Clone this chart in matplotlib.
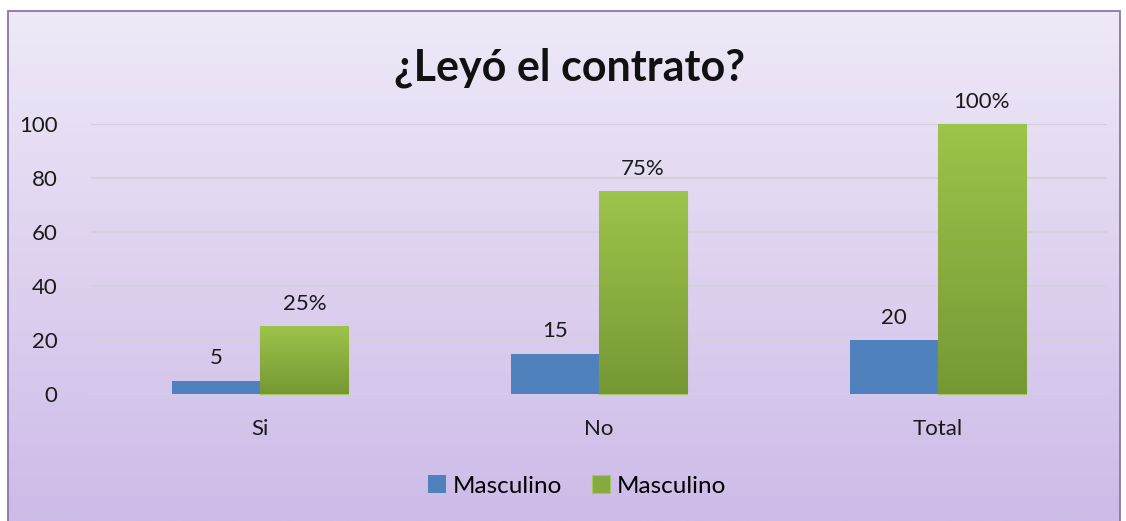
import numpy as np
import matplotlib.pyplot as plt
from matplotlib.colors import LinearSegmentedColormap
from matplotlib.patches import Rectangle

categories = ["Si", "No", "Total"]
masculino_n = [5, 15, 20]
masculino_pct = [25, 75, 100]
legend_labels = ["Masculino", "Masculino"]
yticks = [0, 20, 40, 60, 80, 100]

plt.rcParams["font.family"] = ["Lato", "DejaVu Sans"]

fig = plt.figure(figsize=(11.26, 5.21), dpi=100)

# background gradient + frame
bg = fig.add_axes([0, 0, 1, 1], zorder=-10)
bg_cmap = LinearSegmentedColormap.from_list("bg", ["#efe9f7", "#cdbbe8"])
grad = np.linspace(0, 1, 256).reshape(-1, 1)
bg.imshow(grad, cmap=bg_cmap, aspect="auto", origin="upper",
          extent=[8 / 1126, 1120 / 1126, 0, 1 - 11 / 521])
bg.add_patch(Rectangle((8 / 1126, -0.01), 1112 / 1126, 1 - 11 / 521 + 0.01,
                       facecolor="none", edgecolor="#8a74ad", lw=1.3, zorder=2))
bg.set_xlim(0, 1)
bg.set_ylim(0, 1)
bg.axis("off")

ax = fig.add_axes([91 / 1126, 127 / 521, 1016 / 1126, 270 / 521])
ax.patch.set_alpha(0)

x = np.arange(len(categories))
w = 0.26
green_cmap = LinearSegmentedColormap.from_list("g", ["#9dc44b", "#769834"])

b1 = ax.bar(x - w / 2, masculino_n, w, color="#4f81bd", zorder=3, clip_on=False)
b2 = ax.bar(x + w / 2, masculino_pct, w, color="#8cae43", edgecolor="#a3c95a",
            lw=0.8, zorder=3, clip_on=False)

for bar in b2:
    x0, y0 = bar.get_x(), bar.get_y()
    im = ax.imshow(grad, cmap=green_cmap, aspect="auto", origin="upper",
                   extent=[x0, x0 + bar.get_width(), y0, y0 + bar.get_height()],
                   zorder=3.5, clip_on=False)
    im.set_clip_path(bar)

for bar, v in zip(b1, masculino_n):
    ax.text(bar.get_x() + bar.get_width() / 2, v + 4.5, f"{v}", ha="center", va="bottom",
            fontsize=16, color="#1a1a1a")
for bar, v in zip(b2, masculino_pct):
    ax.text(bar.get_x() + bar.get_width() / 2, v + 4.5, f"{v}%", ha="center", va="bottom",
            fontsize=16, color="#1a1a1a")

ax.set_xlim(-0.5, 2.5)
ax.set_ylim(0, 100)
ax.set_yticks(yticks)
ax.set_xticks(x)
ax.set_xticklabels(categories)
ax.tick_params(axis="both", length=0, labelsize=16, colors="#1a1a1a")
ax.tick_params(axis="x", pad=18)
ax.tick_params(axis="y", pad=24)
ax.grid(axis="y", color="#d6d0de", lw=1.6, zorder=0)
for s in ax.spines.values():
    s.set_visible(False)

fig.text(569 / 1126, 1 - 68 / 521, "¿Leyó el contrato?", ha="center", va="center",
         fontsize=31, fontweight="bold", color="#111111")

leg = fig.legend([b1, b2], legend_labels, loc="center",
                 bbox_to_anchor=(577 / 1126, 1 - 486 / 521),
                 ncol=2, frameon=False, fontsize=17.5, handlelength=0.75,
                 handleheight=0.75, handletextpad=0.3, columnspacing=1.2)
leg.legend_handles[1].set_facecolor("#86a940")
leg.legend_handles[1].set_edgecolor("#a3c95a")

fig.savefig("out.png", dpi=100)
